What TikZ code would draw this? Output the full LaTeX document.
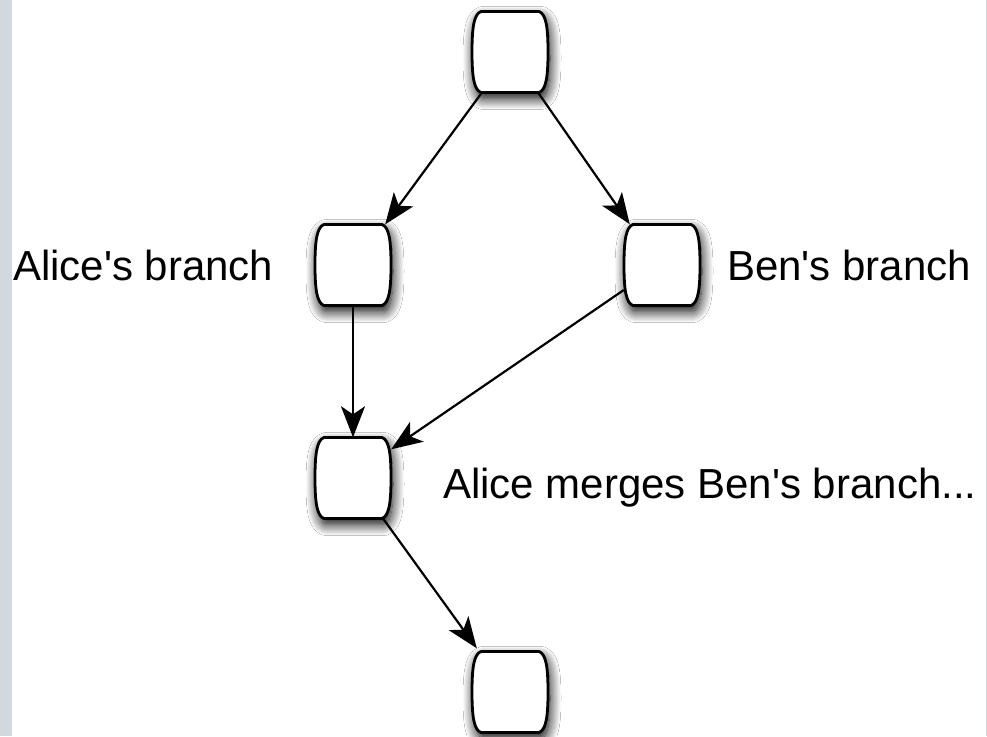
\documentclass[tikz,border=0pt]{standalone}
\usepackage{fontspec}
\setmainfont{Liberation Sans}
\usetikzlibrary{arrows.meta,shadows.blur}
\definecolor{stripcol}{HTML}{CFD9DF}
\begin{document}
\begin{tikzpicture}[x=1pt,y=-1pt,
  box/.style={minimum width=76pt,minimum height=81pt,inner sep=0pt},
  shell/.style={draw=black,line width=2.8pt,fill=white,line join=round,
    blur shadow={shadow xshift=2pt,shadow yshift=-6pt,shadow blur radius=11pt,shadow opacity=100,shadow blur steps=14}},
  conn/.style={line width=2.2pt,draw=black,-{Stealth[length=31pt,width=24pt,inset=8pt,fill=black,color=black]}},
  lab/.style={anchor=base west,inner sep=0pt,font=\fontsize{42}{50}\selectfont}]
\useasboundingbox (0,0) rectangle (987,736);
\fill[white] (0,0) rectangle (987,736);
\fill[stripcol] (0,0) rectangle (12,736);
\fill[stripcol] (985.5,0) rectangle (987,736);

% nodes (placeholders)
\node[box] (t) at (510,52) {};
\node[box] (a) at (353,265) {};
\node[box] (b) at (662,265) {};
\node[box] (m) at (353,478) {};
\node[box] (e) at (510,692) {};

% barrel outlines
\foreach \n in {t,a,b,m,e}{
  \draw[shell,shift={(\n.center)}]
    (-29,-40.5) -- (29,-40.5)
    .. controls (36,-38) and (38,-25) .. (38,0)
    .. controls (38,25) and (36,38) .. (29,40.5)
    -- (-29,40.5)
    .. controls (-36,38) and (-38,25) .. (-38,0)
    .. controls (-38,-25) and (-36,-38) .. (-29,-40.5) -- cycle;
}

% labels
\node[lab] (la) at (13,280) {Alice\textquotesingle s branch};
\node[lab] (lb) at (727,280) {Ben\textquotesingle s branch};
\node[lab] (lm) at (443,498) {Alice merges Ben\textquotesingle s branch...};

% connectors
\draw[conn] ([xshift=10pt]t.south west) -- ([xshift=-6pt]a.north east);
\draw[conn] ([xshift=-10pt]t.south east) -- ([xshift=6pt]b.north west);
\draw[conn] (a.south) -- (m.north);
\draw[conn] ([yshift=-25pt]b.west) -- ([yshift=-12pt]m.north east);
\draw[conn] ([xshift=-8pt]m.south east) -- ([xshift=5pt,yshift=3pt]e.north west);
\end{tikzpicture}
\end{document}
